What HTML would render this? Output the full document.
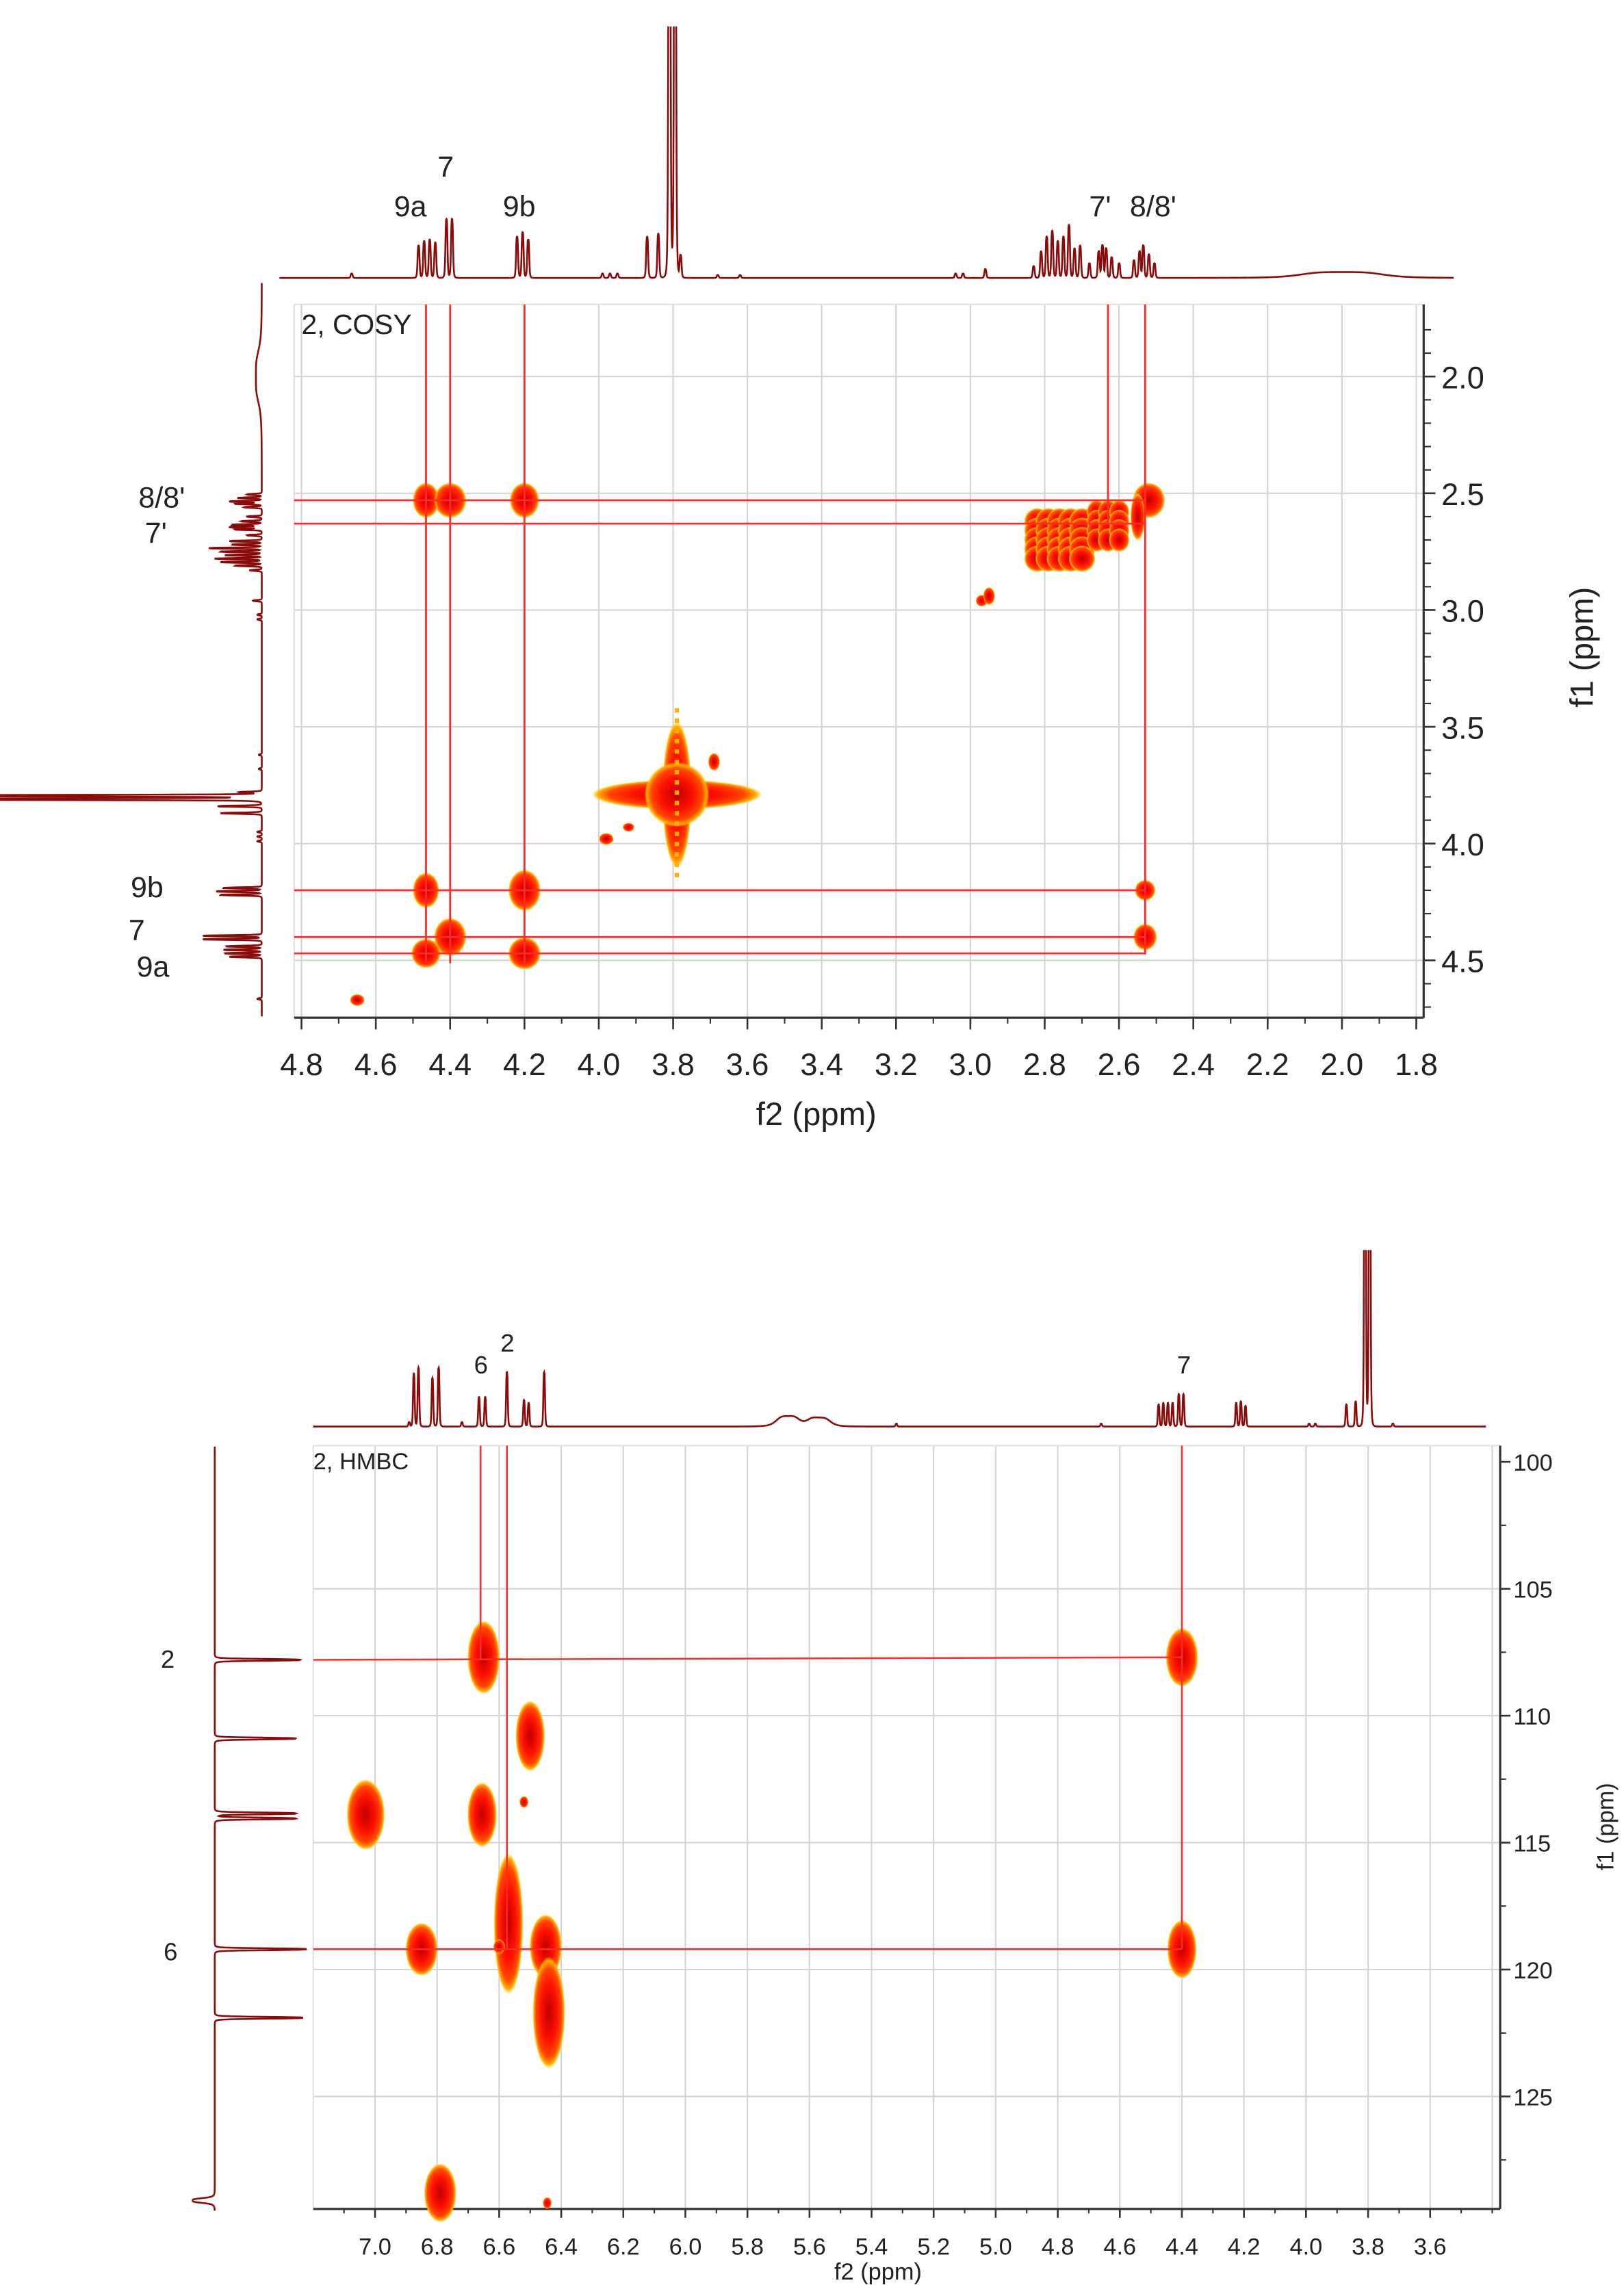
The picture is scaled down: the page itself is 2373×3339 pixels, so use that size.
<!DOCTYPE html>
<html><head><meta charset="utf-8">
<style>html,body{margin:0;padding:0;background:#fff}svg{display:block}text{font-family:"Liberation Sans",sans-serif;fill:#222}</style>
</head><body>
<svg id="s" xmlns="http://www.w3.org/2000/svg" width="2373" height="3339" viewBox="0 0 1104.2 1553.7">
<defs>
<radialGradient id="bg" cx="0.5" cy="0.5" r="0.5">
<stop offset="0" stop-color="#c00000"/><stop offset="0.5" stop-color="#ff1000"/><stop offset="0.8" stop-color="#ff4a00"/><stop offset="0.93" stop-color="#ffb000"/><stop offset="1" stop-color="#ffd000" stop-opacity="0"/>
</radialGradient>
<clipPath id="c1"><rect x="190" y="18" width="800" height="180"/></clipPath>
<clipPath id="c2"><rect x="0" y="190" width="200" height="505"/></clipPath>
<clipPath id="c3"><rect x="200" y="850" width="830" height="130"/></clipPath>
<clipPath id="c4"><rect x="100" y="980" width="120" height="525"/></clipPath>
</defs>
<g id="g"></g>
<text x="205" y="227" font-size="19">2, COSY</text>
<g font-size="20" text-anchor="middle">
<text x="303" y="120">7</text><text x="279" y="147">9a</text><text x="353" y="147">9b</text><text x="748" y="147">7'</text><text x="784" y="147">8/8'</text>
<text x="110" y="345">8/8'</text><text x="106" y="369">7'</text><text x="100" y="610">9b</text><text x="93" y="639">7</text><text x="104" y="664">9a</text>
</g>
<g id="cx" font-size="21" text-anchor="middle"></g>
<g id="cy" font-size="21"></g>
<text x="555" y="765" font-size="22" text-anchor="middle">f2 (ppm)</text>
<text transform="translate(1083,440) rotate(-90)" font-size="22" text-anchor="middle">f1 (ppm)</text>
<text x="213" y="999" font-size="16">2, HMBC</text>
<g font-size="17" text-anchor="middle">
<text x="327" y="934">6</text><text x="345" y="919">2</text><text x="805" y="934">7</text>
<text x="114" y="1134">2</text><text x="116" y="1333">6</text>
</g>
<g id="hx" font-size="16" text-anchor="middle"></g>
<g id="hy" font-size="16"></g>
<text x="597" y="1550" font-size="16" text-anchor="middle">f2 (ppm)</text>
<text transform="translate(1097,1242) rotate(-90)" font-size="16" text-anchor="middle">f1 (ppm)</text>
</svg>
<script>
var NS="http://www.w3.org/2000/svg",G=document.getElementById('g');
function el(t,a,p){var e=document.createElementNS(NS,t);for(var k in a)e.setAttribute(k,a[k]);(p||G).appendChild(e);return e;}
function line(x1,y1,x2,y2,c,w){el('line',{x1:x1,y1:y1,x2:x2,y2:y2,stroke:c,'stroke-width':w});}
function blob(cx,cy,rx,ry){el('ellipse',{cx:cx,cy:cy,rx:rx,ry:ry,fill:'url(#bg)'});}
function spec(peaks,p0,p1,map,base,dir,horiz,clip,wd){
 var d='',n=Math.ceil(Math.abs(map(p1)-map(p0))/0.25);
 for(var i=0;i<=n;i++){var p=p0+(p1-p0)*i/n,h=0;
  for(var j=0;j<peaks.length;j++){var w=peaks[j][2]||wd,dx=(p-peaks[j][0])/w;h+=peaks[j][1]/(1+dx*dx*dx*dx);}
  var a=map(p),b=base+dir*h;d+=(i?'L':'M')+(horiz?(a.toFixed(2)+','+b.toFixed(2)):(b.toFixed(2)+','+a.toFixed(2)));}
 el('path',{d:d,fill:'none',stroke:'#8b0a0a','stroke-width':1.2,'clip-path':'url(#'+clip+')'});}
var X=function(p){return 205+(4.8-p)*252.7},Y=function(p){return 256+(p-2.0)*158.8};
for(var i=0;i<=15;i++){var x=205+i*50.53;line(x,207,x,692,'#d4d4d4',1);}
for(var i=0;i<=5;i++){var y=256+i*79.4;line(200,y,968,y,'#d4d4d4',1);}
line(200,207,968,207,'#e0e0e0',1);line(200,207,200,692,'#e0e0e0',1);
line(200,692,968,692,'#333',1.5);line(968,207,968,692,'#333',1.5);
var cx=document.getElementById('cx'),cyg=document.getElementById('cy');
for(var i=0;i<=15;i++){var x=205+i*50.53,v=(4.8-i*0.2).toFixed(1);line(x,692,x,700,'#333',1.2);el('text',{x:x,y:731},cx).textContent=v;}
for(var i=0;i<=30;i++){var x=205+i*25.27;line(x,692,x,696,'#333',1);}
for(var i=0;i<=5;i++){var y=256+i*79.4;line(968,y,976,y,'#333',1.2);el('text',{x:980,y:y+8},cyg).textContent=(2+i*0.5).toFixed(1);}
for(var p=1.8;p<=4.7;p+=0.1){var y=Y(p);line(968,y,973,y,'#333',1);}
var cp=[[4.465,2.53,9,12],[4.40,2.53,11,12],[4.20,2.53,10,12],[2.52,2.53,11,12],[2.55,2.6,5,16],
[2.97,2.96,4,4],[2.95,2.94,4,6],
[4.465,4.20,9,12],[4.20,4.20,11,14],[2.53,4.20,7,7],[4.40,4.40,11,13],[2.53,4.40,8,9],
[4.465,4.47,10,10],[4.20,4.47,11,11],[4.65,4.67,5,4],[3.69,3.65,4,6],[3.98,3.98,5,4],[3.92,3.93,4,3]];
cp.forEach(function(c){blob(X(c[0]),Y(c[1]),c[2],c[3]);});
// 2.7 block
for(var a=2.82;a>=2.70;a-=0.03)for(var b=2.62;b<=2.82;b+=0.04)blob(X(a),Y(b),9,9);
for(var a=2.66;a>=2.60;a-=0.03)for(var b=2.58;b<=2.72;b+=0.04)blob(X(a),Y(b),7,8);
el('ellipse',{cx:X(3.79),cy:Y(3.79),rx:58,ry:10,fill:'url(#bg)'});
el('ellipse',{cx:X(3.79),cy:Y(3.79),rx:10,ry:50,fill:'url(#bg)'});
blob(X(3.79),Y(3.79),22,22);
el('line',{x1:X(3.79),y1:Y(3.42),x2:X(3.79),y2:Y(4.15),stroke:'#ffb000','stroke-width':3,'stroke-dasharray':'3 4'});
[4.465,4.40,4.20].forEach(function(p){line(X(p),207,X(p),655,'#ff2a2a',1.3);});
line(X(2.63),207,X(2.63),Y(2.63),'#ff2a2a',1.3);
line(X(2.53),207,X(2.53),649,'#ff2a2a',1.3);
[2.53,2.63,4.20,4.40,4.47].forEach(function(p){line(200,Y(p),X(2.53),Y(p),'#ff2a2a',1.3);});
var pk=[[4.665,3],[4.485,22],[4.47,25],[4.455,26],[4.44,24],[4.41,40],[4.395,40],[4.22,28],[4.205,31],[4.19,26],
[3.99,3],[3.97,3],[3.95,3],[3.87,28],[3.84,30],[3.81,400],[3.795,400],[3.78,15],[3.68,2],[3.62,2],
[3.04,3],[3.02,3],[2.96,6],[2.83,8],[2.81,18],[2.795,28],[2.78,32],[2.765,25],[2.75,28],[2.735,36],[2.72,20],[2.705,22],[2.68,10],[2.655,18],[2.645,22],[2.635,20],[2.62,14],[2.60,10],[2.56,12],[2.545,18],[2.535,22],[2.52,16],[2.505,10],[2.0,4,0.12]];
spec(pk,4.95,1.7,X,189,-1,true,'c1',0.003);
spec(pk,1.6,4.74,Y,178,-1,false,'c2',0.003);
var HX=function(p){return 255+(7.0-p)*211},HY=function(p){return 994+(p-100)*17.26};
for(var i=-1;i<=18;i++){var x=255+i*42.2;if(x>213&&x<1018)line(x,983,x,1502,'#d4d4d4',1);}
for(var i=1;i<=5;i++){var y=994+i*86.3;line(213,y,1020,y,'#d4d4d4',1);}
line(213,983,1020,983,'#e0e0e0',1);line(213,983,213,1502,'#e0e0e0',1);
line(213,1502,1020,1502,'#333',1.5);line(1020,983,1020,1502,'#333',1.5);
var hx=document.getElementById('hx'),hy=document.getElementById('hy');
for(var i=0;i<=17;i++){var x=255+i*42.2;line(x,1502,x,1508,'#333',1.2);el('text',{x:x,y:1533},hx).textContent=(7.0-i*0.2).toFixed(1);}
for(var x=255-21.1*2;x<1020;x+=21.1){if(x>213)line(x,1502,x,1505,'#333',1);}
for(var i=0;i<=5;i++){var y=994+i*86.3;line(1020,y,1027,y,'#333',1.2);el('text',{x:1029,y:y+6},hy).textContent=100+i*5;}
for(var p=100;p<=129;p+=2.5){var y=HY(p);line(1020,y,1024,y,'#333',1);}
var hp=[[6.65,107.7,11,25],[6.50,110.8,10,24],[7.03,113.9,13,24],[6.655,113.9,10,22],[6.52,113.4,3,4],
[6.85,119.2,11,18],[6.57,118.2,10,48],[6.45,119.1,11,22],[6.44,121.7,11,38],[6.60,119.1,4,5],
[4.40,107.7,11,20],[4.40,119.2,10,20],[6.79,128.8,11,20],[6.445,129.2,3,4]];
hp.forEach(function(c){blob(HX(c[0]),HY(c[1]),c[2],c[3]);});
line(HX(6.66),983,HX(6.66),HY(107.8),'#ff2a2a',1.2);
line(HX(6.575),983,HX(6.575),HY(119.2),'#ff2a2a',1.2);
line(HX(4.40),983,HX(4.40),HY(119.2),'#ff2a2a',1.2);
line(213,HY(107.8),HX(4.40),HY(107.7),'#ff2a2a',1.2);
line(213,HY(119.2),HX(4.40),HY(119.2),'#ff2a2a',1.2);
var hpk=[[6.89,3],[6.875,36],[6.86,40],[6.815,33],[6.795,40],[6.72,3],[6.665,20],[6.645,20],[6.575,37],[6.52,18],[6.505,16],[6.455,37],
[5.67,7,0.04],[5.57,6,0.04],[5.32,2],[4.66,2],[4.475,15],[4.46,16],[4.445,16],[4.43,16],[4.41,22],[4.395,22],[4.225,16],[4.21,17],[4.195,14],
[3.99,2],[3.97,2],[3.87,15],[3.84,17],[3.81,300],[3.795,300],[3.72,2]];
spec(hpk,7.2,3.42,HX,970,-1,true,'c3',0.003);
var vpk=[[107.8,58],[110.9,55],[113.85,55],[114.05,55],[119.2,62],[121.9,60],[129.1,-15,0.1]];
spec(vpk,99.4,129.5,HY,146,1,false,'c4',0.04);
</script>
</body></html>
